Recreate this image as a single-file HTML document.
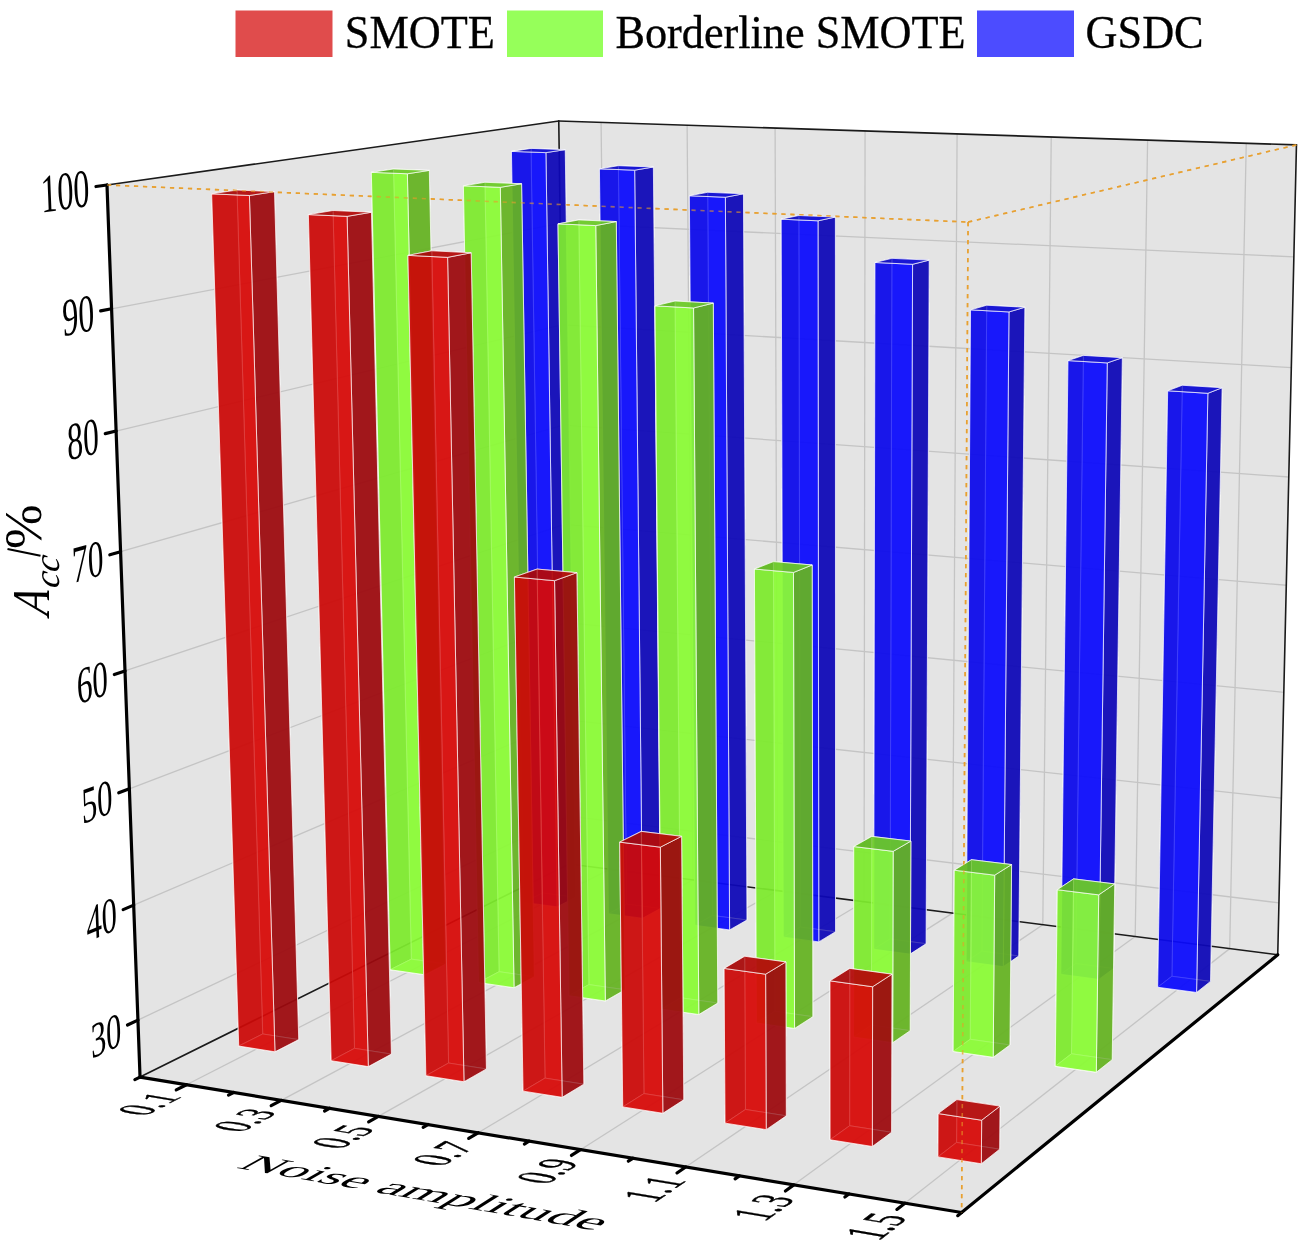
<!DOCTYPE html><html><head><meta charset="utf-8"><style>html,body{margin:0;padding:0;background:#fff}svg{display:block}</style></head><body><div style="will-change:transform"><svg width="1301" height="1240" viewBox="0 0 1301 1240"><polygon points="140.04,1077.06 569.27,863.97 558.76,121.07 106.99,184.98" fill="#e4e4e4"/>
<polygon points="569.27,863.97 1277.75,954.80 1296.46,144.89 558.76,121.07" fill="#e4e4e4"/>
<polygon points="140.04,1077.06 961.61,1212.50 1277.75,954.80 569.27,863.97" fill="#e4e4e4"/>
<g stroke="#c4c4c4" stroke-width="1.3"><line x1="137.93" y1="1020.10" x2="568.59" y2="816.18" /><line x1="568.59" y1="816.18" x2="1278.95" y2="902.87" /><line x1="133.67" y1="905.14" x2="567.23" y2="719.88" /><line x1="567.23" y1="719.88" x2="1281.37" y2="798.16" /><line x1="129.36" y1="788.78" x2="565.85" y2="622.60" /><line x1="565.85" y1="622.60" x2="1283.81" y2="692.29" /><line x1="124.99" y1="670.99" x2="564.47" y2="524.33" /><line x1="564.47" y1="524.33" x2="1286.29" y2="585.25" /><line x1="120.57" y1="551.74" x2="563.06" y2="425.06" /><line x1="563.06" y1="425.06" x2="1288.79" y2="477.00" /><line x1="116.10" y1="431.01" x2="561.64" y2="324.77" /><line x1="561.64" y1="324.77" x2="1291.31" y2="367.55" /><line x1="111.57" y1="308.77" x2="560.21" y2="223.45" /><line x1="560.21" y1="223.45" x2="1293.87" y2="256.85" /><line x1="610.05" y1="869.20" x2="601.08" y2="122.44" /><line x1="186.49" y1="1084.72" x2="610.05" y2="869.20" /><line x1="692.92" y1="879.82" x2="687.13" y2="125.22" /><line x1="281.20" y1="1100.33" x2="692.92" y2="879.82" /><line x1="777.57" y1="890.67" x2="775.10" y2="128.06" /><line x1="378.37" y1="1116.35" x2="777.57" y2="890.67" /><line x1="864.06" y1="901.76" x2="865.07" y2="130.96" /><line x1="478.11" y1="1132.79" x2="864.06" y2="901.76" /><line x1="952.45" y1="913.09" x2="957.09" y2="133.93" /><line x1="580.53" y1="1149.68" x2="952.45" y2="913.09" /><line x1="1042.81" y1="924.68" x2="1051.24" y2="136.97" /><line x1="685.72" y1="1167.02" x2="1042.81" y2="924.68" /><line x1="1135.20" y1="936.52" x2="1147.60" y2="140.09" /><line x1="793.80" y1="1184.84" x2="1135.20" y2="936.52" /><line x1="1229.70" y1="948.63" x2="1246.25" y2="143.27" /><line x1="904.90" y1="1203.15" x2="1229.70" y2="948.63" /></g>
<g stroke="#1a1a1a" stroke-width="1.6" stroke-linecap="round"><line x1="106.99" y1="184.98" x2="558.76" y2="121.07" /><line x1="558.76" y1="121.07" x2="1296.46" y2="144.89" /><line x1="1296.46" y1="144.89" x2="1277.75" y2="954.80" /><line x1="558.76" y1="121.07" x2="569.27" y2="863.97" /><line x1="140.04" y1="1077.06" x2="569.27" y2="863.97" /><line x1="569.27" y1="863.97" x2="1277.75" y2="954.80" /></g>
<g stroke="#e8a030" stroke-width="1.6" stroke-dasharray="4.2 4.8" fill="none"><line x1="106.99" y1="184.98" x2="968.09" y2="222.07" /><line x1="968.09" y1="222.07" x2="1296.46" y2="144.89" /><line x1="968.09" y1="222.07" x2="961.61" y2="1212.50" /></g>
<g><polygon points="542.60,892.96 575.60,897.33 565.25,149.63 531.01,148.40" fill="#0b0bfc" fill-opacity="0.75" stroke="#fff" stroke-opacity="0.75" stroke-width="0.9" stroke-linejoin="round"/><polygon points="523.88,902.39 542.60,892.96 531.01,148.40 511.45,151.38" fill="#0f07a5" fill-opacity="0.75" stroke="#fff" stroke-opacity="0.75" stroke-width="0.9" stroke-linejoin="round"/><polygon points="523.88,902.39 557.10,906.84 575.60,897.33 542.60,892.96" fill="#0b0bfc" fill-opacity="0.75" stroke="#fff" stroke-opacity="0.75" stroke-width="0.9" stroke-linejoin="round"/><polygon points="557.10,906.84 575.60,897.33 565.25,149.63 545.93,152.64" fill="#0f07a5" fill-opacity="0.75" stroke="#fff" stroke-opacity="0.75" stroke-width="0.9" stroke-linejoin="round"/><polygon points="523.88,902.39 557.10,906.84 545.93,152.64 511.45,151.38" fill="#0b0bfc" fill-opacity="0.75" stroke="#fff" stroke-opacity="0.75" stroke-width="0.9" stroke-linejoin="round"/><polygon points="511.45,151.38 545.93,152.64 565.25,149.63 531.01,148.40" fill="#0c0ac8" fill-opacity="0.75" stroke="#fff" stroke-opacity="0.75" stroke-width="0.9" stroke-linejoin="round"/><polygon points="626.62,904.09 660.35,908.55 653.38,166.98 618.38,165.66" fill="#0b0bfc" fill-opacity="0.75" stroke="#fff" stroke-opacity="0.75" stroke-width="0.9" stroke-linejoin="round"/><polygon points="608.45,913.72 626.62,904.09 618.38,165.66 599.43,168.83" fill="#0f07a5" fill-opacity="0.75" stroke="#fff" stroke-opacity="0.75" stroke-width="0.9" stroke-linejoin="round"/><polygon points="608.45,913.72 642.40,918.26 660.35,908.55 626.62,904.09" fill="#0b0bfc" fill-opacity="0.75" stroke="#fff" stroke-opacity="0.75" stroke-width="0.9" stroke-linejoin="round"/><polygon points="642.40,918.26 660.35,908.55 653.38,166.98 634.67,170.18" fill="#0f07a5" fill-opacity="0.75" stroke="#fff" stroke-opacity="0.75" stroke-width="0.9" stroke-linejoin="round"/><polygon points="608.45,913.72 642.40,918.26 634.67,170.18 599.43,168.83" fill="#0b0bfc" fill-opacity="0.75" stroke="#fff" stroke-opacity="0.75" stroke-width="0.9" stroke-linejoin="round"/><polygon points="599.43,168.83 634.67,170.18 653.38,166.98 618.38,165.66" fill="#0c0ac8" fill-opacity="0.75" stroke="#fff" stroke-opacity="0.75" stroke-width="0.9" stroke-linejoin="round"/><polygon points="712.50,915.46 746.97,920.02 743.46,193.76 707.69,192.30" fill="#0b0bfc" fill-opacity="0.75" stroke="#fff" stroke-opacity="0.75" stroke-width="0.9" stroke-linejoin="round"/><polygon points="694.90,925.30 712.50,915.46 707.69,192.30 689.37,195.76" fill="#0f07a5" fill-opacity="0.75" stroke="#fff" stroke-opacity="0.75" stroke-width="0.9" stroke-linejoin="round"/><polygon points="694.90,925.30 729.61,929.95 746.97,920.02 712.50,915.46" fill="#0b0bfc" fill-opacity="0.75" stroke="#fff" stroke-opacity="0.75" stroke-width="0.9" stroke-linejoin="round"/><polygon points="729.61,929.95 746.97,920.02 743.46,193.76 725.39,197.24" fill="#0f07a5" fill-opacity="0.75" stroke="#fff" stroke-opacity="0.75" stroke-width="0.9" stroke-linejoin="round"/><polygon points="694.90,925.30 729.61,929.95 725.39,197.24 689.37,195.76" fill="#0b0bfc" fill-opacity="0.75" stroke="#fff" stroke-opacity="0.75" stroke-width="0.9" stroke-linejoin="round"/><polygon points="689.37,195.76 725.39,197.24 743.46,193.76 707.69,192.30" fill="#0c0ac8" fill-opacity="0.75" stroke="#fff" stroke-opacity="0.75" stroke-width="0.9" stroke-linejoin="round"/><polygon points="800.29,927.08 835.54,931.75 835.40,217.06 798.83,215.49" fill="#0b0bfc" fill-opacity="0.75" stroke="#fff" stroke-opacity="0.75" stroke-width="0.9" stroke-linejoin="round"/><polygon points="783.29,937.14 800.29,927.08 798.83,215.49 781.18,219.20" fill="#0f07a5" fill-opacity="0.75" stroke="#fff" stroke-opacity="0.75" stroke-width="0.9" stroke-linejoin="round"/><polygon points="783.29,937.14 818.79,941.89 835.54,931.75 800.29,927.08" fill="#0b0bfc" fill-opacity="0.75" stroke="#fff" stroke-opacity="0.75" stroke-width="0.9" stroke-linejoin="round"/><polygon points="818.79,941.89 835.54,931.75 835.40,217.06 818.02,220.81" fill="#0f07a5" fill-opacity="0.75" stroke="#fff" stroke-opacity="0.75" stroke-width="0.9" stroke-linejoin="round"/><polygon points="783.29,937.14 818.79,941.89 818.02,220.81 781.18,219.20" fill="#0b0bfc" fill-opacity="0.75" stroke="#fff" stroke-opacity="0.75" stroke-width="0.9" stroke-linejoin="round"/><polygon points="781.18,219.20 818.02,220.81 835.40,217.06 798.83,215.49" fill="#0c0ac8" fill-opacity="0.75" stroke="#fff" stroke-opacity="0.75" stroke-width="0.9" stroke-linejoin="round"/><polygon points="890.05,938.96 926.10,943.74 929.23,260.12 891.87,258.33" fill="#0b0bfc" fill-opacity="0.75" stroke="#fff" stroke-opacity="0.75" stroke-width="0.9" stroke-linejoin="round"/><polygon points="873.69,949.24 890.05,938.96 891.87,258.33 874.94,262.48" fill="#0f07a5" fill-opacity="0.75" stroke="#fff" stroke-opacity="0.75" stroke-width="0.9" stroke-linejoin="round"/><polygon points="873.69,949.24 910.00,954.11 926.10,943.74 890.05,938.96" fill="#0b0bfc" fill-opacity="0.75" stroke="#fff" stroke-opacity="0.75" stroke-width="0.9" stroke-linejoin="round"/><polygon points="910.00,954.11 926.10,943.74 929.23,260.12 912.57,264.31" fill="#0f07a5" fill-opacity="0.75" stroke="#fff" stroke-opacity="0.75" stroke-width="0.9" stroke-linejoin="round"/><polygon points="873.69,949.24 910.00,954.11 912.57,264.31 874.94,262.48" fill="#0b0bfc" fill-opacity="0.75" stroke="#fff" stroke-opacity="0.75" stroke-width="0.9" stroke-linejoin="round"/><polygon points="874.94,262.48 912.57,264.31 929.23,260.12 891.87,258.33" fill="#0c0ac8" fill-opacity="0.75" stroke="#fff" stroke-opacity="0.75" stroke-width="0.9" stroke-linejoin="round"/><polygon points="981.86,951.12 1018.74,956.00 1024.87,307.24 986.71,305.22" fill="#0b0bfc" fill-opacity="0.75" stroke="#fff" stroke-opacity="0.75" stroke-width="0.9" stroke-linejoin="round"/><polygon points="966.17,961.63 981.86,951.12 986.71,305.22 970.53,309.86" fill="#0f07a5" fill-opacity="0.75" stroke="#fff" stroke-opacity="0.75" stroke-width="0.9" stroke-linejoin="round"/><polygon points="966.17,961.63 1003.32,966.61 1018.74,956.00 981.86,951.12" fill="#0b0bfc" fill-opacity="0.75" stroke="#fff" stroke-opacity="0.75" stroke-width="0.9" stroke-linejoin="round"/><polygon points="1003.32,966.61 1018.74,956.00 1024.87,307.24 1008.98,311.93" fill="#0f07a5" fill-opacity="0.75" stroke="#fff" stroke-opacity="0.75" stroke-width="0.9" stroke-linejoin="round"/><polygon points="966.17,961.63 1003.32,966.61 1008.98,311.93 970.53,309.86" fill="#0b0bfc" fill-opacity="0.75" stroke="#fff" stroke-opacity="0.75" stroke-width="0.9" stroke-linejoin="round"/><polygon points="970.53,309.86 1008.98,311.93 1024.87,307.24 986.71,305.22" fill="#0c0ac8" fill-opacity="0.75" stroke="#fff" stroke-opacity="0.75" stroke-width="0.9" stroke-linejoin="round"/><polygon points="411.31,959.11 445.76,964.06 429.32,170.38 393.50,168.97" fill="#8bfb36" fill-opacity="0.75" stroke="#fff" stroke-opacity="0.75" stroke-width="0.9" stroke-linejoin="round"/><polygon points="390.20,969.75 411.31,959.11 393.50,168.97 371.33,172.34" fill="#4bab11" fill-opacity="0.75" stroke="#fff" stroke-opacity="0.75" stroke-width="0.9" stroke-linejoin="round"/><polygon points="390.20,969.75 424.88,974.79 445.76,964.06 411.31,959.11" fill="#8bfb36" fill-opacity="0.75" stroke="#fff" stroke-opacity="0.75" stroke-width="0.9" stroke-linejoin="round"/><polygon points="424.88,974.79 445.76,964.06 429.32,170.38 407.39,173.78" fill="#5ca01e" fill-opacity="0.75" stroke="#fff" stroke-opacity="0.75" stroke-width="0.9" stroke-linejoin="round"/><polygon points="390.20,969.75 424.88,974.79 407.39,173.78 371.33,172.34" fill="#8bfb36" fill-opacity="0.75" stroke="#fff" stroke-opacity="0.75" stroke-width="0.9" stroke-linejoin="round"/><polygon points="371.33,172.34 407.39,173.78 429.32,170.38 393.50,168.97" fill="#64be23" fill-opacity="0.75" stroke="#fff" stroke-opacity="0.75" stroke-width="0.9" stroke-linejoin="round"/><polygon points="1075.78,963.56 1113.52,968.55 1122.35,357.68 1083.36,355.40" fill="#0b0bfc" fill-opacity="0.75" stroke="#fff" stroke-opacity="0.75" stroke-width="0.9" stroke-linejoin="round"/><polygon points="1060.79,974.31 1075.78,963.56 1083.36,355.40 1067.96,360.58" fill="#0f07a5" fill-opacity="0.75" stroke="#fff" stroke-opacity="0.75" stroke-width="0.9" stroke-linejoin="round"/><polygon points="1060.79,974.31 1098.81,979.40 1113.52,968.55 1075.78,963.56" fill="#0b0bfc" fill-opacity="0.75" stroke="#fff" stroke-opacity="0.75" stroke-width="0.9" stroke-linejoin="round"/><polygon points="1098.81,979.40 1113.52,968.55 1122.35,357.68 1107.25,362.91" fill="#0f07a5" fill-opacity="0.75" stroke="#fff" stroke-opacity="0.75" stroke-width="0.9" stroke-linejoin="round"/><polygon points="1060.79,974.31 1098.81,979.40 1107.25,362.91 1067.96,360.58" fill="#0b0bfc" fill-opacity="0.75" stroke="#fff" stroke-opacity="0.75" stroke-width="0.9" stroke-linejoin="round"/><polygon points="1067.96,360.58 1107.25,362.91 1122.35,357.68 1083.36,355.40" fill="#0c0ac8" fill-opacity="0.75" stroke="#fff" stroke-opacity="0.75" stroke-width="0.9" stroke-linejoin="round"/><polygon points="499.07,971.70 534.33,976.76 521.59,183.76 484.92,182.27" fill="#8bfb36" fill-opacity="0.75" stroke="#fff" stroke-opacity="0.75" stroke-width="0.9" stroke-linejoin="round"/><polygon points="478.55,982.58 499.07,971.70 484.92,182.27 463.40,185.82" fill="#4bab11" fill-opacity="0.75" stroke="#fff" stroke-opacity="0.75" stroke-width="0.9" stroke-linejoin="round"/><polygon points="478.55,982.58 514.05,987.73 534.33,976.76 499.07,971.70" fill="#8bfb36" fill-opacity="0.75" stroke="#fff" stroke-opacity="0.75" stroke-width="0.9" stroke-linejoin="round"/><polygon points="514.05,987.73 534.33,976.76 521.59,183.76 500.32,187.34" fill="#5ca01e" fill-opacity="0.75" stroke="#fff" stroke-opacity="0.75" stroke-width="0.9" stroke-linejoin="round"/><polygon points="478.55,982.58 514.05,987.73 500.32,187.34 463.40,185.82" fill="#8bfb36" fill-opacity="0.75" stroke="#fff" stroke-opacity="0.75" stroke-width="0.9" stroke-linejoin="round"/><polygon points="463.40,185.82 500.32,187.34 521.59,183.76 484.92,182.27" fill="#64be23" fill-opacity="0.75" stroke="#fff" stroke-opacity="0.75" stroke-width="0.9" stroke-linejoin="round"/><polygon points="1171.89,976.28 1210.51,981.39 1222.14,387.72 1182.26,385.26" fill="#0b0bfc" fill-opacity="0.75" stroke="#fff" stroke-opacity="0.75" stroke-width="0.9" stroke-linejoin="round"/><polygon points="1157.65,987.28 1171.89,976.28 1182.26,385.26 1167.66,390.79" fill="#0f07a5" fill-opacity="0.75" stroke="#fff" stroke-opacity="0.75" stroke-width="0.9" stroke-linejoin="round"/><polygon points="1157.65,987.28 1196.57,992.49 1210.51,981.39 1171.89,976.28" fill="#0b0bfc" fill-opacity="0.75" stroke="#fff" stroke-opacity="0.75" stroke-width="0.9" stroke-linejoin="round"/><polygon points="1196.57,992.49 1210.51,981.39 1222.14,387.72 1207.87,393.30" fill="#0f07a5" fill-opacity="0.75" stroke="#fff" stroke-opacity="0.75" stroke-width="0.9" stroke-linejoin="round"/><polygon points="1157.65,987.28 1196.57,992.49 1207.87,393.30 1167.66,390.79" fill="#0b0bfc" fill-opacity="0.75" stroke="#fff" stroke-opacity="0.75" stroke-width="0.9" stroke-linejoin="round"/><polygon points="1167.66,390.79 1207.87,393.30 1222.14,387.72 1182.26,385.26" fill="#0c0ac8" fill-opacity="0.75" stroke="#fff" stroke-opacity="0.75" stroke-width="0.9" stroke-linejoin="round"/><polygon points="588.88,984.58 624.98,989.76 616.30,221.57 578.79,219.89" fill="#8bfb36" fill-opacity="0.75" stroke="#fff" stroke-opacity="0.75" stroke-width="0.9" stroke-linejoin="round"/><polygon points="568.98,995.71 588.88,984.58 578.79,219.89 557.98,223.85" fill="#4bab11" fill-opacity="0.75" stroke="#fff" stroke-opacity="0.75" stroke-width="0.9" stroke-linejoin="round"/><polygon points="568.98,995.71 605.33,1000.99 624.98,989.76 588.88,984.58" fill="#8bfb36" fill-opacity="0.75" stroke="#fff" stroke-opacity="0.75" stroke-width="0.9" stroke-linejoin="round"/><polygon points="605.33,1000.99 624.98,989.76 616.30,221.57 595.76,225.57" fill="#5ca01e" fill-opacity="0.75" stroke="#fff" stroke-opacity="0.75" stroke-width="0.9" stroke-linejoin="round"/><polygon points="568.98,995.71 605.33,1000.99 595.76,225.57 557.98,223.85" fill="#8bfb36" fill-opacity="0.75" stroke="#fff" stroke-opacity="0.75" stroke-width="0.9" stroke-linejoin="round"/><polygon points="557.98,223.85 595.76,225.57 616.30,221.57 578.79,219.89" fill="#64be23" fill-opacity="0.75" stroke="#fff" stroke-opacity="0.75" stroke-width="0.9" stroke-linejoin="round"/><polygon points="680.83,997.77 717.78,1003.07 713.30,303.12 675.01,301.03" fill="#8bfb36" fill-opacity="0.75" stroke="#fff" stroke-opacity="0.75" stroke-width="0.9" stroke-linejoin="round"/><polygon points="661.58,1009.16 680.83,997.77 675.01,301.03 654.98,305.84" fill="#4bab11" fill-opacity="0.75" stroke="#fff" stroke-opacity="0.75" stroke-width="0.9" stroke-linejoin="round"/><polygon points="661.58,1009.16 698.80,1014.56 717.78,1003.07 680.83,997.77" fill="#8bfb36" fill-opacity="0.75" stroke="#fff" stroke-opacity="0.75" stroke-width="0.9" stroke-linejoin="round"/><polygon points="698.80,1014.56 717.78,1003.07 713.30,303.12 693.56,307.98" fill="#5ca01e" fill-opacity="0.75" stroke="#fff" stroke-opacity="0.75" stroke-width="0.9" stroke-linejoin="round"/><polygon points="661.58,1009.16 698.80,1014.56 693.56,307.98 654.98,305.84" fill="#8bfb36" fill-opacity="0.75" stroke="#fff" stroke-opacity="0.75" stroke-width="0.9" stroke-linejoin="round"/><polygon points="654.98,305.84 693.56,307.98 713.30,303.12 675.01,301.03" fill="#64be23" fill-opacity="0.75" stroke="#fff" stroke-opacity="0.75" stroke-width="0.9" stroke-linejoin="round"/><polygon points="774.98,1011.27 812.83,1016.70 812.20,564.97 773.45,561.61" fill="#8bfb36" fill-opacity="0.75" stroke="#fff" stroke-opacity="0.75" stroke-width="0.9" stroke-linejoin="round"/><polygon points="756.42,1022.93 774.98,1011.27 773.45,561.61 754.43,569.03" fill="#4bab11" fill-opacity="0.75" stroke="#fff" stroke-opacity="0.75" stroke-width="0.9" stroke-linejoin="round"/><polygon points="756.42,1022.93 794.55,1028.47 812.83,1016.70 774.98,1011.27" fill="#8bfb36" fill-opacity="0.75" stroke="#fff" stroke-opacity="0.75" stroke-width="0.9" stroke-linejoin="round"/><polygon points="794.55,1028.47 812.83,1016.70 812.20,564.97 793.47,572.47" fill="#5ca01e" fill-opacity="0.75" stroke="#fff" stroke-opacity="0.75" stroke-width="0.9" stroke-linejoin="round"/><polygon points="756.42,1022.93 794.55,1028.47 793.47,572.47 754.43,569.03" fill="#8bfb36" fill-opacity="0.75" stroke="#fff" stroke-opacity="0.75" stroke-width="0.9" stroke-linejoin="round"/><polygon points="754.43,569.03 793.47,572.47 812.20,564.97 773.45,561.61" fill="#64be23" fill-opacity="0.75" stroke="#fff" stroke-opacity="0.75" stroke-width="0.9" stroke-linejoin="round"/><polygon points="871.41,1025.10 910.18,1030.66 910.90,841.08 871.73,836.38" fill="#8bfb36" fill-opacity="0.75" stroke="#fff" stroke-opacity="0.75" stroke-width="0.9" stroke-linejoin="round"/><polygon points="853.58,1037.04 871.41,1025.10 871.73,836.38 853.73,846.55" fill="#4bab11" fill-opacity="0.75" stroke="#fff" stroke-opacity="0.75" stroke-width="0.9" stroke-linejoin="round"/><polygon points="853.58,1037.04 892.66,1042.71 910.18,1030.66 871.41,1025.10" fill="#8bfb36" fill-opacity="0.75" stroke="#fff" stroke-opacity="0.75" stroke-width="0.9" stroke-linejoin="round"/><polygon points="892.66,1042.71 910.18,1030.66 910.90,841.08 893.20,851.34" fill="#5ca01e" fill-opacity="0.75" stroke="#fff" stroke-opacity="0.75" stroke-width="0.9" stroke-linejoin="round"/><polygon points="853.58,1037.04 892.66,1042.71 893.20,851.34 853.73,846.55" fill="#8bfb36" fill-opacity="0.75" stroke="#fff" stroke-opacity="0.75" stroke-width="0.9" stroke-linejoin="round"/><polygon points="853.73,846.55 893.20,851.34 910.90,841.08 871.73,836.38" fill="#64be23" fill-opacity="0.75" stroke="#fff" stroke-opacity="0.75" stroke-width="0.9" stroke-linejoin="round"/><polygon points="262.71,1033.98 298.73,1039.61 274.49,191.63 236.99,190.02" fill="#d70a08" fill-opacity="0.75" stroke="#fff" stroke-opacity="0.75" stroke-width="0.9" stroke-linejoin="round"/><polygon points="238.72,1046.07 262.71,1033.98 236.99,190.02 211.65,193.85" fill="#9d0a0a" fill-opacity="0.75" stroke="#fff" stroke-opacity="0.75" stroke-width="0.9" stroke-linejoin="round"/><polygon points="238.72,1046.07 274.98,1051.82 298.73,1039.61 262.71,1033.98" fill="#d70a08" fill-opacity="0.75" stroke="#fff" stroke-opacity="0.75" stroke-width="0.9" stroke-linejoin="round"/><polygon points="274.98,1051.82 298.73,1039.61 274.49,191.63 249.41,195.50" fill="#8d0a10" fill-opacity="0.75" stroke="#fff" stroke-opacity="0.75" stroke-width="0.9" stroke-linejoin="round"/><polygon points="238.72,1046.07 274.98,1051.82 249.41,195.50 211.65,193.85" fill="#d70a08" fill-opacity="0.75" stroke="#fff" stroke-opacity="0.75" stroke-width="0.9" stroke-linejoin="round"/><polygon points="211.65,193.85 249.41,195.50 274.49,191.63 236.99,190.02" fill="#ab0a0a" fill-opacity="0.75" stroke="#fff" stroke-opacity="0.75" stroke-width="0.9" stroke-linejoin="round"/><polygon points="970.21,1039.27 1009.95,1044.97 1011.58,864.55 971.46,859.68" fill="#8bfb36" fill-opacity="0.75" stroke="#fff" stroke-opacity="0.75" stroke-width="0.9" stroke-linejoin="round"/><polygon points="953.15,1051.50 970.21,1039.27 971.46,859.68 954.25,870.21" fill="#4bab11" fill-opacity="0.75" stroke="#fff" stroke-opacity="0.75" stroke-width="0.9" stroke-linejoin="round"/><polygon points="953.15,1051.50 993.21,1057.32 1009.95,1044.97 970.21,1039.27" fill="#8bfb36" fill-opacity="0.75" stroke="#fff" stroke-opacity="0.75" stroke-width="0.9" stroke-linejoin="round"/><polygon points="993.21,1057.32 1009.95,1044.97 1011.58,864.55 994.69,875.18" fill="#5ca01e" fill-opacity="0.75" stroke="#fff" stroke-opacity="0.75" stroke-width="0.9" stroke-linejoin="round"/><polygon points="953.15,1051.50 993.21,1057.32 994.69,875.18 954.25,870.21" fill="#8bfb36" fill-opacity="0.75" stroke="#fff" stroke-opacity="0.75" stroke-width="0.9" stroke-linejoin="round"/><polygon points="954.25,870.21 994.69,875.18 1011.58,864.55 971.46,859.68" fill="#64be23" fill-opacity="0.75" stroke="#fff" stroke-opacity="0.75" stroke-width="0.9" stroke-linejoin="round"/><polygon points="354.50,1048.33 391.41,1054.10 371.46,212.23 333.01,210.49" fill="#d70a08" fill-opacity="0.75" stroke="#fff" stroke-opacity="0.75" stroke-width="0.9" stroke-linejoin="round"/><polygon points="331.13,1060.72 354.50,1048.33 333.01,210.49 308.37,214.58" fill="#9d0a0a" fill-opacity="0.75" stroke="#fff" stroke-opacity="0.75" stroke-width="0.9" stroke-linejoin="round"/><polygon points="331.13,1060.72 368.30,1066.61 391.41,1054.10 354.50,1048.33" fill="#d70a08" fill-opacity="0.75" stroke="#fff" stroke-opacity="0.75" stroke-width="0.9" stroke-linejoin="round"/><polygon points="368.30,1066.61 391.41,1054.10 371.46,212.23 347.10,216.36" fill="#8d0a10" fill-opacity="0.75" stroke="#fff" stroke-opacity="0.75" stroke-width="0.9" stroke-linejoin="round"/><polygon points="331.13,1060.72 368.30,1066.61 347.10,216.36 308.37,214.58" fill="#d70a08" fill-opacity="0.75" stroke="#fff" stroke-opacity="0.75" stroke-width="0.9" stroke-linejoin="round"/><polygon points="308.37,214.58 347.10,216.36 371.46,212.23 333.01,210.49" fill="#ab0a0a" fill-opacity="0.75" stroke="#fff" stroke-opacity="0.75" stroke-width="0.9" stroke-linejoin="round"/><polygon points="1071.47,1053.79 1112.20,1059.63 1114.74,883.90 1073.62,878.87" fill="#8bfb36" fill-opacity="0.75" stroke="#fff" stroke-opacity="0.75" stroke-width="0.9" stroke-linejoin="round"/><polygon points="1055.23,1066.32 1071.47,1053.79 1073.62,878.87 1057.25,889.73" fill="#4bab11" fill-opacity="0.75" stroke="#fff" stroke-opacity="0.75" stroke-width="0.9" stroke-linejoin="round"/><polygon points="1055.23,1066.32 1096.30,1072.29 1112.20,1059.63 1071.47,1053.79" fill="#8bfb36" fill-opacity="0.75" stroke="#fff" stroke-opacity="0.75" stroke-width="0.9" stroke-linejoin="round"/><polygon points="1096.30,1072.29 1112.20,1059.63 1114.74,883.90 1098.71,894.86" fill="#5ca01e" fill-opacity="0.75" stroke="#fff" stroke-opacity="0.75" stroke-width="0.9" stroke-linejoin="round"/><polygon points="1055.23,1066.32 1096.30,1072.29 1098.71,894.86 1057.25,889.73" fill="#8bfb36" fill-opacity="0.75" stroke="#fff" stroke-opacity="0.75" stroke-width="0.9" stroke-linejoin="round"/><polygon points="1057.25,889.73 1098.71,894.86 1114.74,883.90 1073.62,878.87" fill="#64be23" fill-opacity="0.75" stroke="#fff" stroke-opacity="0.75" stroke-width="0.9" stroke-linejoin="round"/><polygon points="448.57,1063.04 486.42,1068.96 471.17,252.75 431.77,250.79" fill="#d70a08" fill-opacity="0.75" stroke="#fff" stroke-opacity="0.75" stroke-width="0.9" stroke-linejoin="round"/><polygon points="425.87,1075.73 448.57,1063.04 431.77,250.79 407.91,255.36" fill="#9d0a0a" fill-opacity="0.75" stroke="#fff" stroke-opacity="0.75" stroke-width="0.9" stroke-linejoin="round"/><polygon points="425.87,1075.73 464.00,1081.78 486.42,1068.96 448.57,1063.04" fill="#d70a08" fill-opacity="0.75" stroke="#fff" stroke-opacity="0.75" stroke-width="0.9" stroke-linejoin="round"/><polygon points="464.00,1081.78 486.42,1068.96 471.17,252.75 447.60,257.37" fill="#8d0a10" fill-opacity="0.75" stroke="#fff" stroke-opacity="0.75" stroke-width="0.9" stroke-linejoin="round"/><polygon points="425.87,1075.73 464.00,1081.78 447.60,257.37 407.91,255.36" fill="#d70a08" fill-opacity="0.75" stroke="#fff" stroke-opacity="0.75" stroke-width="0.9" stroke-linejoin="round"/><polygon points="407.91,255.36 447.60,257.37 471.17,252.75 431.77,250.79" fill="#ab0a0a" fill-opacity="0.75" stroke="#fff" stroke-opacity="0.75" stroke-width="0.9" stroke-linejoin="round"/><polygon points="545.03,1078.12 583.84,1084.19 576.92,572.68 537.09,569.07" fill="#d70a08" fill-opacity="0.75" stroke="#fff" stroke-opacity="0.75" stroke-width="0.9" stroke-linejoin="round"/><polygon points="523.04,1091.13 545.03,1078.12 537.09,569.07 514.42,577.02" fill="#9d0a0a" fill-opacity="0.75" stroke="#fff" stroke-opacity="0.75" stroke-width="0.9" stroke-linejoin="round"/><polygon points="523.04,1091.13 562.15,1097.33 583.84,1084.19 545.03,1078.12" fill="#d70a08" fill-opacity="0.75" stroke="#fff" stroke-opacity="0.75" stroke-width="0.9" stroke-linejoin="round"/><polygon points="562.15,1097.33 583.84,1084.19 576.92,572.68 554.55,580.70" fill="#8d0a10" fill-opacity="0.75" stroke="#fff" stroke-opacity="0.75" stroke-width="0.9" stroke-linejoin="round"/><polygon points="523.04,1091.13 562.15,1097.33 554.55,580.70 514.42,577.02" fill="#d70a08" fill-opacity="0.75" stroke="#fff" stroke-opacity="0.75" stroke-width="0.9" stroke-linejoin="round"/><polygon points="514.42,577.02 554.55,580.70 576.92,572.68 537.09,569.07" fill="#ab0a0a" fill-opacity="0.75" stroke="#fff" stroke-opacity="0.75" stroke-width="0.9" stroke-linejoin="round"/><polygon points="643.96,1093.59 683.78,1099.81 681.60,836.34 641.25,831.38" fill="#d70a08" fill-opacity="0.75" stroke="#fff" stroke-opacity="0.75" stroke-width="0.9" stroke-linejoin="round"/><polygon points="622.72,1106.93 643.96,1093.59 641.25,831.38 619.68,842.12" fill="#9d0a0a" fill-opacity="0.75" stroke="#fff" stroke-opacity="0.75" stroke-width="0.9" stroke-linejoin="round"/><polygon points="622.72,1106.93 662.85,1113.29 683.78,1099.81 643.96,1093.59" fill="#d70a08" fill-opacity="0.75" stroke="#fff" stroke-opacity="0.75" stroke-width="0.9" stroke-linejoin="round"/><polygon points="662.85,1113.29 683.78,1099.81 681.60,836.34 660.36,847.18" fill="#8d0a10" fill-opacity="0.75" stroke="#fff" stroke-opacity="0.75" stroke-width="0.9" stroke-linejoin="round"/><polygon points="622.72,1106.93 662.85,1113.29 660.36,847.18 619.68,842.12" fill="#d70a08" fill-opacity="0.75" stroke="#fff" stroke-opacity="0.75" stroke-width="0.9" stroke-linejoin="round"/><polygon points="619.68,842.12 660.36,847.18 681.60,836.34 641.25,831.38" fill="#ab0a0a" fill-opacity="0.75" stroke="#fff" stroke-opacity="0.75" stroke-width="0.9" stroke-linejoin="round"/><polygon points="745.46,1109.46 786.32,1115.85 785.89,961.91 744.70,956.26" fill="#d70a08" fill-opacity="0.75" stroke="#fff" stroke-opacity="0.75" stroke-width="0.9" stroke-linejoin="round"/><polygon points="725.03,1123.14 745.46,1109.46 744.70,956.26 724.09,968.42" fill="#9d0a0a" fill-opacity="0.75" stroke="#fff" stroke-opacity="0.75" stroke-width="0.9" stroke-linejoin="round"/><polygon points="725.03,1123.14 766.22,1129.67 786.32,1115.85 745.46,1109.46" fill="#d70a08" fill-opacity="0.75" stroke="#fff" stroke-opacity="0.75" stroke-width="0.9" stroke-linejoin="round"/><polygon points="766.22,1129.67 786.32,1115.85 785.89,961.91 765.61,974.19" fill="#8d0a10" fill-opacity="0.75" stroke="#fff" stroke-opacity="0.75" stroke-width="0.9" stroke-linejoin="round"/><polygon points="725.03,1123.14 766.22,1129.67 765.61,974.19 724.09,968.42" fill="#d70a08" fill-opacity="0.75" stroke="#fff" stroke-opacity="0.75" stroke-width="0.9" stroke-linejoin="round"/><polygon points="724.09,968.42 765.61,974.19 785.89,961.91 744.70,956.26" fill="#ab0a0a" fill-opacity="0.75" stroke="#fff" stroke-opacity="0.75" stroke-width="0.9" stroke-linejoin="round"/><polygon points="849.63,1125.74 891.57,1132.30 892.01,974.18 849.72,968.39" fill="#d70a08" fill-opacity="0.75" stroke="#fff" stroke-opacity="0.75" stroke-width="0.9" stroke-linejoin="round"/><polygon points="830.05,1139.79 849.63,1125.74 849.72,968.39 829.97,980.84" fill="#9d0a0a" fill-opacity="0.75" stroke="#fff" stroke-opacity="0.75" stroke-width="0.9" stroke-linejoin="round"/><polygon points="830.05,1139.79 872.34,1146.49 891.57,1132.30 849.63,1125.74" fill="#d70a08" fill-opacity="0.75" stroke="#fff" stroke-opacity="0.75" stroke-width="0.9" stroke-linejoin="round"/><polygon points="872.34,1146.49 891.57,1132.30 892.01,974.18 872.62,986.76" fill="#8d0a10" fill-opacity="0.75" stroke="#fff" stroke-opacity="0.75" stroke-width="0.9" stroke-linejoin="round"/><polygon points="830.05,1139.79 872.34,1146.49 872.62,986.76 829.97,980.84" fill="#d70a08" fill-opacity="0.75" stroke="#fff" stroke-opacity="0.75" stroke-width="0.9" stroke-linejoin="round"/><polygon points="829.97,980.84 872.62,986.76 892.01,974.18 849.72,968.39" fill="#ab0a0a" fill-opacity="0.75" stroke="#fff" stroke-opacity="0.75" stroke-width="0.9" stroke-linejoin="round"/><polygon points="956.57,1142.46 999.65,1149.20 1000.02,1106.11 956.84,1099.58" fill="#d70a08" fill-opacity="0.75" stroke="#fff" stroke-opacity="0.75" stroke-width="0.9" stroke-linejoin="round"/><polygon points="937.90,1156.88 956.57,1142.46 956.84,1099.58 938.12,1113.56" fill="#9d0a0a" fill-opacity="0.75" stroke="#fff" stroke-opacity="0.75" stroke-width="0.9" stroke-linejoin="round"/><polygon points="937.90,1156.88 981.34,1163.77 999.65,1149.20 956.57,1142.46" fill="#d70a08" fill-opacity="0.75" stroke="#fff" stroke-opacity="0.75" stroke-width="0.9" stroke-linejoin="round"/><polygon points="981.34,1163.77 999.65,1149.20 1000.02,1106.11 981.67,1120.23" fill="#8d0a10" fill-opacity="0.75" stroke="#fff" stroke-opacity="0.75" stroke-width="0.9" stroke-linejoin="round"/><polygon points="937.90,1156.88 981.34,1163.77 981.67,1120.23 938.12,1113.56" fill="#d70a08" fill-opacity="0.75" stroke="#fff" stroke-opacity="0.75" stroke-width="0.9" stroke-linejoin="round"/><polygon points="938.12,1113.56 981.67,1120.23 1000.02,1106.11 956.84,1099.58" fill="#ab0a0a" fill-opacity="0.75" stroke="#fff" stroke-opacity="0.75" stroke-width="0.9" stroke-linejoin="round"/></g>
<g stroke="#000" stroke-width="3.2" stroke-linecap="round"><line x1="106.99" y1="184.98" x2="140.04" y2="1077.06" /><line x1="140.04" y1="1077.06" x2="961.61" y2="1212.50" /><line x1="961.61" y1="1212.50" x2="1277.75" y2="954.80" /><line x1="137.93" y1="1020.10" x2="127.50" y2="1025.04" /><line x1="133.67" y1="905.14" x2="123.16" y2="909.63" /><line x1="129.36" y1="788.78" x2="118.77" y2="792.82" /><line x1="124.99" y1="670.99" x2="114.32" y2="674.55" /><line x1="120.57" y1="551.74" x2="109.82" y2="554.82" /><line x1="116.10" y1="431.01" x2="105.26" y2="433.60" /><line x1="111.57" y1="308.77" x2="100.64" y2="310.84" /><line x1="106.99" y1="184.98" x2="95.97" y2="186.54" /><line x1="140.04" y1="1077.06" x2="134.86" y2="1079.63" /><line x1="186.49" y1="1084.72" x2="176.23" y2="1089.94" /><line x1="233.54" y1="1092.47" x2="228.49" y2="1095.11" /><line x1="281.20" y1="1100.33" x2="271.20" y2="1105.68" /><line x1="329.47" y1="1108.29" x2="324.55" y2="1110.99" /><line x1="378.37" y1="1116.35" x2="368.66" y2="1121.84" /><line x1="427.92" y1="1124.52" x2="423.14" y2="1127.29" /><line x1="478.11" y1="1132.79" x2="468.70" y2="1138.43" /><line x1="528.98" y1="1141.18" x2="524.36" y2="1144.03" /><line x1="580.53" y1="1149.68" x2="571.43" y2="1155.46" /><line x1="632.77" y1="1158.29" x2="628.31" y2="1161.21" /><line x1="685.72" y1="1167.02" x2="676.96" y2="1172.96" /><line x1="739.39" y1="1175.87" x2="735.11" y2="1178.87" /><line x1="793.80" y1="1184.84" x2="785.41" y2="1190.94" /><line x1="848.96" y1="1193.93" x2="844.87" y2="1197.02" /><line x1="904.90" y1="1203.15" x2="896.89" y2="1209.42" /><line x1="961.61" y1="1212.50" x2="957.72" y2="1215.67" /></g>
<g stroke="#e8a030" stroke-width="1.6" stroke-dasharray="4.2 4.8" fill="none" opacity="0.6"><line x1="106.99" y1="184.98" x2="968.09" y2="222.07" /><line x1="968.09" y1="222.07" x2="1296.46" y2="144.89" /><line x1="968.09" y1="222.07" x2="961.61" y2="1212.50" /></g>
<g font-family="Liberation Serif" fill="#000"><text transform="matrix(0.76291 -0.36136 0.04853 1.23893 91.55 1059.12)" font-size="40">3</text><text transform="matrix(0.75393 -0.35710 0.04725 1.23208 106.79 1051.81)" font-size="40">0</text></g><g font-family="Liberation Serif" fill="#000"><text transform="matrix(0.76899 -0.32872 0.04913 1.25426 86.93 942.36)" font-size="40">4</text><text transform="matrix(0.75987 -0.32482 0.04783 1.24723 102.29 935.69)" font-size="40">0</text></g><g font-family="Liberation Serif" fill="#000"><text transform="matrix(0.77515 -0.29524 0.04974 1.26988 82.25 824.15)" font-size="40">5</text><text transform="matrix(0.76591 -0.29172 0.04843 1.26267 97.73 818.15)" font-size="40">0</text></g><g font-family="Liberation Serif" fill="#000"><text transform="matrix(0.78141 -0.26089 0.05036 1.28579 77.51 704.45)" font-size="40">6</text><text transform="matrix(0.77203 -0.25776 0.04903 1.27840 93.12 699.14)" font-size="40">0</text></g><g font-family="Liberation Serif" fill="#000"><text transform="matrix(0.78776 -0.22566 0.05100 1.30200 72.71 583.25)" font-size="40">7</text><text transform="matrix(0.77825 -0.22293 0.04964 1.29442 88.45 578.64)" font-size="40">0</text></g><g font-family="Liberation Serif" fill="#000"><text transform="matrix(0.79422 -0.18951 0.05165 1.31853 67.85 460.51)" font-size="40">8</text><text transform="matrix(0.78457 -0.18721 0.05027 1.31075 83.72 456.62)" font-size="40">0</text></g><g font-family="Liberation Serif" fill="#000"><text transform="matrix(0.80077 -0.15242 0.05230 1.33536 62.93 336.20)" font-size="40">9</text><text transform="matrix(0.79098 -0.15055 0.05091 1.32738 78.93 333.05)" font-size="40">0</text></g><g font-family="Liberation Serif" fill="#000"><text transform="matrix(0.81755 -0.11579 0.05443 1.36082 41.62 212.73)" font-size="40">1</text><text transform="matrix(0.80743 -0.11435 0.05298 1.35253 57.95 210.30)" font-size="40">0</text><text transform="matrix(0.79750 -0.11295 0.05156 1.34434 74.08 207.91)" font-size="40">0</text></g><g font-family="Liberation Serif" fill="#000" stroke="#000" stroke-width="0.5"><text transform="matrix(0.78374 -0.39887 1.11789 0.18939 144.27 1116.45)" font-size="40">0</text><text transform="matrix(0.77651 -0.39519 1.11450 0.18761 159.89 1108.46)" font-size="40">.</text><text transform="matrix(0.76937 -0.39155 1.11112 0.18585 167.62 1104.48)" font-size="40">1</text></g><g font-family="Liberation Serif" fill="#000" stroke="#000" stroke-width="0.5"><text transform="matrix(0.76390 -0.40921 1.14744 0.19440 240.84 1132.88)" font-size="40">0</text><text transform="matrix(0.75675 -0.40538 1.14382 0.19254 256.06 1124.68)" font-size="40">.</text><text transform="matrix(0.74971 -0.40161 1.14021 0.19072 263.59 1120.60)" font-size="40">3</text></g><g font-family="Liberation Serif" fill="#000" stroke="#000" stroke-width="0.5"><text transform="matrix(0.74271 -0.41997 1.17817 0.19960 339.99 1149.75)" font-size="40">0</text><text transform="matrix(0.73567 -0.41599 1.17430 0.19768 354.78 1141.34)" font-size="40">.</text><text transform="matrix(0.72873 -0.41206 1.17046 0.19577 362.10 1137.14)" font-size="40">5</text></g><g font-family="Liberation Serif" fill="#000" stroke="#000" stroke-width="0.5"><text transform="matrix(0.72009 -0.43116 1.21015 0.20502 441.83 1167.08)" font-size="40">0</text><text transform="matrix(0.71318 -0.42702 1.20603 0.20302 456.16 1158.44)" font-size="40">.</text><text transform="matrix(0.70636 -0.42293 1.20193 0.20104 463.26 1154.13)" font-size="40">7</text></g><g font-family="Liberation Serif" fill="#000" stroke="#000" stroke-width="0.5"><text transform="matrix(0.69596 -0.44281 1.24346 0.21066 546.47 1184.88)" font-size="40">0</text><text transform="matrix(0.68918 -0.43850 1.23906 0.20857 560.32 1176.01)" font-size="40">.</text><text transform="matrix(0.68250 -0.43425 1.23468 0.20652 567.17 1171.59)" font-size="40">9</text></g><g font-family="Liberation Serif" fill="#000" stroke="#000" stroke-width="0.5"><text transform="matrix(0.67019 -0.45494 1.27815 0.21654 654.02 1203.18)" font-size="40">1</text><text transform="matrix(0.66358 -0.45045 1.27346 0.21437 667.35 1194.06)" font-size="40">.</text><text transform="matrix(0.65706 -0.44603 1.26879 0.21222 673.94 1189.52)" font-size="40">1</text></g><g font-family="Liberation Serif" fill="#000" stroke="#000" stroke-width="0.5"><text transform="matrix(0.64270 -0.46758 1.31432 0.22267 764.62 1222.00)" font-size="40">1</text><text transform="matrix(0.63627 -0.46291 1.30931 0.22040 777.39 1212.63)" font-size="40">.</text><text transform="matrix(0.62993 -0.45830 1.30434 0.21817 783.70 1207.96)" font-size="40">3</text></g><g font-family="Liberation Serif" fill="#000" stroke="#000" stroke-width="0.5"><text transform="matrix(0.61335 -0.48077 1.35205 0.22906 878.38 1241.35)" font-size="40">1</text><text transform="matrix(0.60713 -0.47589 1.34670 0.22670 890.56 1231.72)" font-size="40">.</text><text transform="matrix(0.60100 -0.47109 1.34140 0.22437 896.58 1226.92)" font-size="40">5</text></g><g font-family="Liberation Serif" fill="#000"><text transform="matrix(1.30751 0.22730 -0.85523 0.47795 235.35 1167.63)" font-size="40">N</text><text transform="matrix(1.31881 0.22927 -0.84744 0.48201 273.24 1174.25)" font-size="40">o</text><text transform="matrix(1.32609 0.23053 -0.84239 0.48462 299.70 1178.87)" font-size="40">i</text><text transform="matrix(1.33237 0.23162 -0.83801 0.48688 314.49 1181.46)" font-size="40">s</text><text transform="matrix(1.34028 0.23300 -0.83246 0.48972 335.30 1185.11)" font-size="40">e</text><text transform="matrix(1.35362 0.23532 -0.82304 0.49450 372.69 1191.65)" font-size="40">a</text><text transform="matrix(1.36553 0.23739 -0.81456 0.49877 396.79 1195.87)" font-size="40">m</text><text transform="matrix(1.37815 0.23958 -0.80550 0.50330 439.43 1203.33)" font-size="40">p</text><text transform="matrix(1.38592 0.24093 -0.79988 0.50609 467.09 1208.16)" font-size="40">l</text><text transform="matrix(1.39151 0.24191 -0.79582 0.50810 482.54 1210.86)" font-size="40">i</text><text transform="matrix(1.39714 0.24288 -0.79172 0.51011 498.06 1213.58)" font-size="40">t</text><text transform="matrix(1.40507 0.24426 -0.78591 0.51296 513.64 1216.31)" font-size="40">u</text><text transform="matrix(1.41537 0.24605 -0.77834 0.51665 541.85 1221.24)" font-size="40">d</text><text transform="matrix(1.42519 0.24776 -0.77106 0.52018 570.25 1226.21)" font-size="40">e</text></g>
<g font-family="Liberation Serif" fill="#000">
<text transform="translate(48.5,616.5) rotate(-90) scale(0.80,1) skewX(-12)" font-size="53" font-style="italic">A</text>
<text transform="translate(58.5,589) rotate(-90) skewX(-10)" font-size="36" font-style="italic">cc</text>
<text transform="translate(40.5,549) rotate(-90)" font-size="53.5">%</text>
<line x1="7.5" y1="549" x2="40.5" y2="555.8" stroke="#000" stroke-width="2.1"/>
</g>
<rect x="235.5" y="10.5" width="97" height="46.5" fill="#e04c4c"/>
<rect x="507" y="10.5" width="96" height="46.5" fill="#96ff5a"/>
<rect x="977" y="10.5" width="97" height="46.5" fill="#4c4cff"/>
<g font-family="Liberation Serif" font-size="46.5" fill="#000" stroke="#000" stroke-width="0.35">
<text x="344.8" y="48.3" textLength="150" lengthAdjust="spacingAndGlyphs">SMOTE</text>
<text x="615.5" y="48" textLength="350" lengthAdjust="spacingAndGlyphs">Borderline SMOTE</text>
<text x="1085.6" y="48.3" textLength="118" lengthAdjust="spacingAndGlyphs">GSDC</text>
</g></svg></div></body></html>
